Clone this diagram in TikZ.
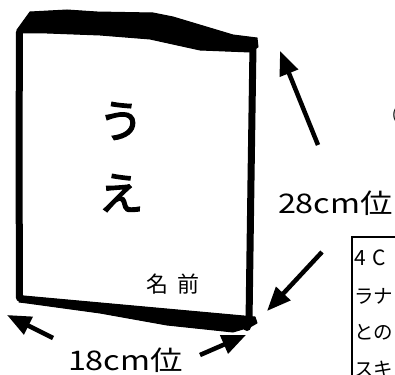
\documentclass[tikz,border=0pt]{standalone}
\usepackage{fontspec}
\usepackage{graphicx}
\usetikzlibrary{arrows.meta}
\newfontfamily\jp{Noto Sans CJK JP}
\newfontfamily\jpb{Noto Sans CJK JP}[FakeBold=3]
\tikzset{
  ink/.style={fill=black, draw=black, line width=1pt, line join=round},
  side/.style={line width=7pt, line cap=round},
  bigarrow/.style={line width=4.5pt, -{Triangle[length=24pt 0, width=19pt 0]}, shorten >=0pt},
  txt/.style={inner sep=0pt, outer sep=0pt},
  boxtxt/.style={txt, anchor=base west, font=\jp\fontsize{19.5}{19.5}\selectfont},
}
\begin{document}
\begin{tikzpicture}[x=1pt,y=-1pt]
\useasboundingbox (0,0) rectangle (395,374);
\clip (0,0) rectangle (395,374);
\fill[white] (0,0) rectangle (395,374);
% top thick edge
\filldraw[ink] (17,30) -- (30,12) -- (67,10) -- (97,12) -- (153,13) -- (173,17) -- (233,35) -- (257,38) -- (258,47) -- (250,52) -- (200,50) -- (150,39) -- (100,35) -- (47,33) -- (23,33) -- cycle;
% sides
\draw[side] (19.5,32) -- (19,150) -- (19.5,298);
\draw[side] (253,45) -- (251,180) -- (249,322);
% bottom thick edge
\filldraw[ink] (19,295) -- (24,296) -- (255,317) -- (257,323) -- (250,327) -- (233,332) -- (167,325) -- (100,313) -- (27,303) -- (19,302) -- cycle;
\fill (247,327) circle (4);
% texts
\node[txt, font=\jpb\fontsize{45}{45}\selectfont] (u) at (121,121) {う};
\node[txt, font=\jpb\fontsize{45}{45}\selectfont] (e) at (121,193) {え};
\node[txt, font=\jp\fontsize{22}{22}\selectfont, anchor=base west] (name) at (146,292) {名\hspace{9pt}前};
\node[txt, font=\jp\fontsize{27}{27}\selectfont, anchor=base west] (l28) at (278,213) {\scalebox{1.2}[1]{28cm位}};
\node[txt, font=\jp\fontsize{27}{27}\selectfont, anchor=base west] (l18) at (68,370) {\scalebox{1.2}[1]{18cm位}};
\node[txt, font=\jp\fontsize{14}{14}\selectfont, anchor=west] (cut) at (392,115) {(};
% text box (cut off by the picture edge)
\draw[line width=2pt] (352,237) -- (352,380) (351,237) -- (400,237);
\node[boxtxt, font=\jp\fontsize{21}{21}\selectfont] (r1) at (354.5,265) {4\hspace{6pt}C};
\node[boxtxt] (r2) at (354,303) {ラナ};
\node[boxtxt] (r3) at (354,339) {との};
\node[boxtxt] (r4) at (354,376) {スキ};
% arrows
\coordinate (a1s) at (318,145); \coordinate (a1e) at (280,51);
\coordinate (a2s) at (322,252); \coordinate (a2e) at (267,311);
\coordinate (a3s) at (53,338);  \coordinate (a3e) at (7,315);
\coordinate (a4s) at (200,355); \coordinate (a4e) at (246,335);
\draw[bigarrow] (a1s) -- (a1e);
\draw[bigarrow] (a2s) -- (a2e);
\draw[bigarrow] (a3s) -- (a3e);
\draw[bigarrow] (a4s) -- (a4e);
\end{tikzpicture}
\end{document}
